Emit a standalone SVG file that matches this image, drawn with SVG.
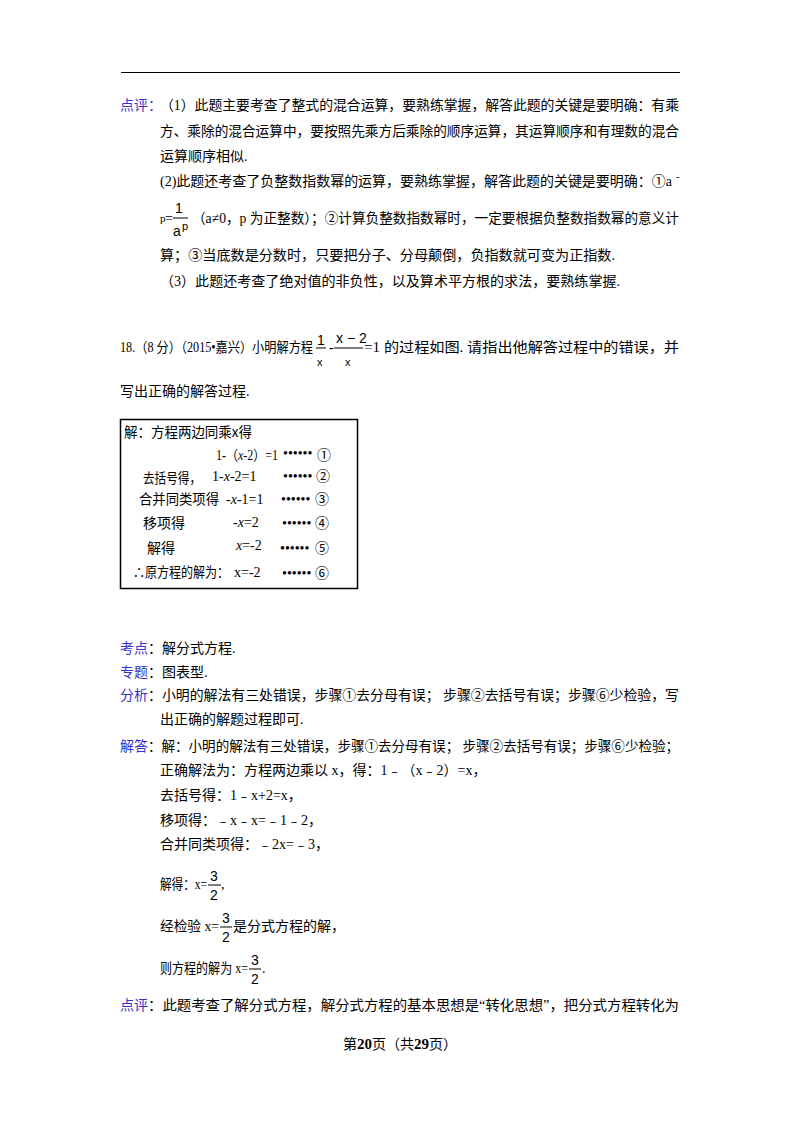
<svg xmlns="http://www.w3.org/2000/svg" width="800" height="1132" viewBox="0 0 800 1132">
<style>
text{font-family:"Liberation Serif","Noto Sans CJK SC",serif;font-size:14px;fill:#000}
.b{fill:#3333cc}
.s{font-family:"Liberation Sans","Noto Sans CJK SC",sans-serif}
.sm{font-size:11px}
.bx{font-family:"Noto Sans CJK SC",sans-serif;font-size:14px}
</style>
<rect width="800" height="1132" fill="#fff"/>
<line x1="121" y1="72.5" x2="680" y2="72.5" stroke="#000" stroke-width="1.2"/>
<g id="review1">
<text x="120" y="110" class="b">点评：</text>
<text x="160" y="110" textLength="519" lengthAdjust="spacingAndGlyphs">（1）此题主要考查了整式的混合运算，要熟练掌握，解答此题的关键是要明确：有乘</text>
<text x="160" y="136" textLength="519" lengthAdjust="spacingAndGlyphs">方、乘除的混合运算中，要按照先乘方后乘除的顺序运算，其运算顺序和有理数的混合</text>
<text x="160" y="161">运算顺序相似.</text>
<text x="160" y="186" textLength="512" lengthAdjust="spacingAndGlyphs">(2)此题还考查了负整数指数幂的运算，要熟练掌握，解答此题的关键是要明确：①a</text>
<text x="676" y="180" class="sm">-</text>
<text x="160" y="222" class="sm">p</text>
<text x="165" y="223">=</text>
<text x="175" y="213" class="s">1</text>
<line x1="173" y1="218" x2="188" y2="218" stroke="#000"/>
<text x="173" y="236" class="s">a</text>
<text x="182" y="230" class="s sm">p</text>
<text x="192" y="223" textLength="487" lengthAdjust="spacingAndGlyphs">（a≠0，p 为正整数）；②计算负整数指数幂时，一定要根据负整数指数幂的意义计</text>
<text x="160" y="260" textLength="455" lengthAdjust="spacingAndGlyphs">算；③当底数是分数时，只要把分子、分母颠倒，负指数就可变为正指数.</text>
<text x="160" y="286" textLength="460" lengthAdjust="spacingAndGlyphs">（3）此题还考查了绝对值的非负性，以及算术平方根的求法，要熟练掌握.</text>
</g>
<g id="problem18">
<text x="120" y="352" textLength="193" lengthAdjust="spacingAndGlyphs">18.（8 分）（2015•嘉兴）小明解方程</text>
<text x="317" y="345" class="s">1</text>
<line x1="316" y1="348" x2="326" y2="348" stroke="#000"/>
<text x="317" y="366" class="s sm">x</text>
<text x="329" y="352">-</text>
<text x="336" y="343" class="s">x − 2</text>
<line x1="334" y1="348" x2="363" y2="348" stroke="#000"/>
<text x="345" y="366" class="s sm">x</text>
<text x="364" y="352" textLength="315" lengthAdjust="spacingAndGlyphs">=1 的过程如图. 请指出他解答过程中的错误，并</text>
<text x="120" y="396">写出正确的解答过程.</text>
</g>
<g id="box">
<rect x="120.5" y="419.5" width="237" height="169" fill="#fff" stroke="#000" stroke-width="1.5"/>
<text x="124" y="437" class="bx" textLength="128" lengthAdjust="spacingAndGlyphs">解：方程两边同乘x得</text>
<text x="216" y="460" textLength="62" lengthAdjust="spacingAndGlyphs">1-（<tspan font-style="italic">x</tspan>-2）=1</text>
<text x="283" y="458" font-size="9">••••••</text>
<text x="317" y="460">①</text>
<text x="143" y="483" class="bx" textLength="58" lengthAdjust="spacingAndGlyphs">去括号得，</text>
<text x="212" y="481">1-<tspan font-style="italic">x</tspan>-2=1</text>
<text x="283" y="481" font-size="9">••••••</text>
<text x="316" y="481">②</text>
<text x="139" y="504" class="bx" textLength="80" lengthAdjust="spacingAndGlyphs">合并同类项得</text>
<text x="226" y="504">-<tspan font-style="italic">x</tspan>-1=1</text>
<text x="281" y="504" font-size="9">••••••</text>
<text x="315" y="504">③</text>
<text x="143" y="528" class="bx">移项得</text>
<text x="233" y="527">-<tspan font-style="italic">x</tspan>=2</text>
<text x="282" y="528" font-size="9">••••••</text>
<text x="315" y="528">④</text>
<text x="147" y="553" class="bx">解得</text>
<text x="236" y="550"><tspan font-style="italic">x</tspan>=-2</text>
<text x="280" y="553" font-size="9">••••••</text>
<text x="315" y="553">⑤</text>
<text x="133" y="577" class="bx" textLength="96" lengthAdjust="spacingAndGlyphs">∴原方程的解为：</text>
<text x="234" y="577">x=-2</text>
<text x="282" y="578" font-size="9">••••••</text>
<text x="315" y="578">⑥</text>
</g>
<g id="analysis">
<text x="120" y="653" class="b">考点</text><text x="148" y="653">：解分式方程.</text>
<text x="120" y="677" class="b">专题</text><text x="148" y="677">：图表型.</text>
<text x="120" y="700" class="b">分析</text><text x="148" y="700" textLength="531" lengthAdjust="spacingAndGlyphs">：小明的解法有三处错误，步骤①去分母有误；  步骤②去括号有误；步骤⑥少检验，写</text>
<text x="160" y="724">出正确的解题过程即可.</text>
<text x="120" y="751" class="b">解答</text><text x="148" y="751" textLength="531" lengthAdjust="spacingAndGlyphs">：解：小明的解法有三处错误，步骤①去分母有误；  步骤②去括号有误；步骤⑥少检验；</text>
<text x="160" y="775">正确解法为：方程两边乘以 x，得：1﹣（x﹣2）=x，</text>
<text x="160" y="800">去括号得：1﹣x+2=x，</text>
<text x="160" y="825">移项得：﹣x﹣x=﹣1﹣2，</text>
<text x="160" y="849">合并同类项得：﹣2x=﹣3，</text>
<text x="160" y="889" textLength="47" lengthAdjust="spacingAndGlyphs">解得：x=</text>
<text x="210" y="881" class="s" font-size="16">3</text>
<line x1="208" y1="885" x2="221" y2="885" stroke="#000"/>
<text x="210" y="900" class="s" font-size="16">2</text>
<text x="221" y="889">,</text>
<text x="160" y="931" textLength="59" lengthAdjust="spacingAndGlyphs">经检验 x=</text>
<text x="222" y="923" class="s" font-size="16">3</text>
<line x1="220" y1="927" x2="232" y2="927" stroke="#000"/>
<text x="222" y="942" class="s" font-size="16">2</text>
<text x="233" y="931">是分式方程的解，</text>
<text x="160" y="973" textLength="88" lengthAdjust="spacingAndGlyphs">则方程的解为 x=</text>
<text x="251" y="965" class="s" font-size="16">3</text>
<line x1="249" y1="969" x2="261" y2="969" stroke="#000"/>
<text x="251" y="984" class="s" font-size="16">2</text>
<text x="262" y="973">.</text>
<text x="120" y="1010" class="b">点评</text><text x="148" y="1010" textLength="531" lengthAdjust="spacingAndGlyphs">：此题考查了解分式方程，解分式方程的基本思想是“转化思想”，把分式方程转化为</text>
</g>
<text x="400" y="1049" text-anchor="middle" font-size="13">第<tspan font-weight="bold" font-size="15">20</tspan>页（共<tspan font-weight="bold" font-size="15">29</tspan>页）</text>
</svg>
